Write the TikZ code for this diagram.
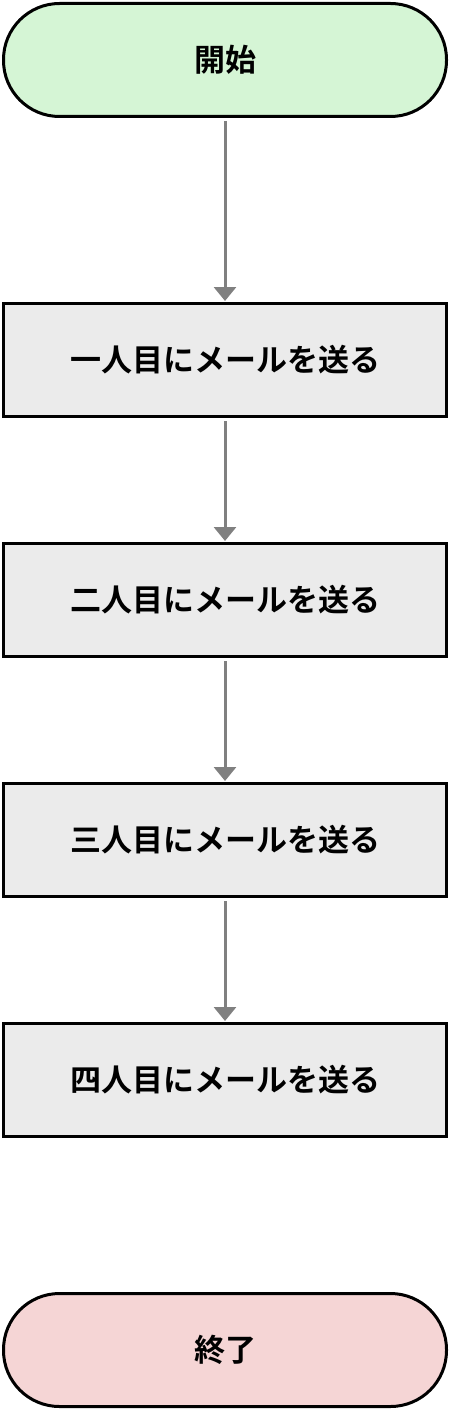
\documentclass[tikz,border=0pt]{standalone}
\usepackage{fontspec}
\newfontfamily\jpfont{Noto Sans CJK JP}[BoldFont={Noto Sans CJK JP Bold}]
\usetikzlibrary{arrows.meta}
\definecolor{startgreen}{HTML}{D5F5D5}
\definecolor{endred}{HTML}{F5D5D5}
\definecolor{stepgray}{HTML}{EBEBEB}
\definecolor{linegray}{HTML}{808080}

\begin{document}
\begin{tikzpicture}
  [x=1pt,y=-1pt,
   every node/.style={draw=black,line width=3pt,minimum width=443pt,minimum height=113pt,
     inner sep=0pt,font=\jpfont\bfseries\fontsize{31}{36}\selectfont},
   terminal/.style={rounded corners=56pt},
   stepbox/.style={fill=stepgray},
   flow/.style={draw=linegray,line width=3pt,-{Triangle[width=22pt,length=14pt]},
     shorten <=3pt,shorten >=1pt}]
  \useasboundingbox (0,0) rectangle (450,1410);
  \node[terminal,fill=startgreen] (start) at (225,60) {開始};
  \node[stepbox] (s1) at (225,360) {一人目にメールを送る};
  \node[stepbox] (s2) at (225,600) {二人目にメールを送る};
  \node[stepbox] (s3) at (225,840) {三人目にメールを送る};
  \node[stepbox] (s4) at (225,1080) {四人目にメールを送る};
  \node[terminal,fill=endred] (stop) at (225,1350) {終了};

  \foreach \from/\to in {start/s1,s1/s2,s2/s3,s3/s4}
    \draw[flow] (\from) -- (\to);
\end{tikzpicture}
\end{document}
